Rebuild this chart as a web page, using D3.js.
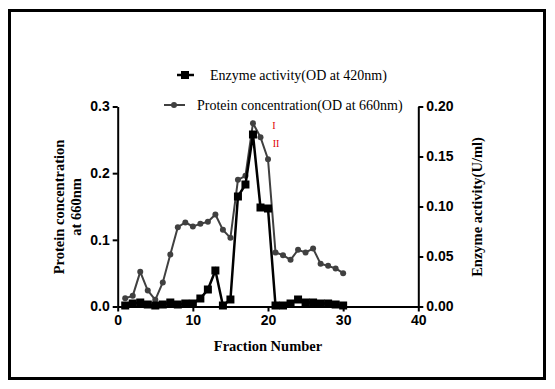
<!DOCTYPE html>
<html>
   <head>
      <script src="https://d3js.org/d3.v7.min.js"></script>
   </head>
   <style>
      body { margin: 0; background: #fff; }
   </style>
   <body>
      <script>
         let [width, height] = [555, 389];

         // fraction numbers and the two series
         let fractions = d3.range(1, 31);
         let protein = [0.0125, 0.016, 0.052, 0.024, 0.010, 0.036, 0.078, 0.119, 0.126, 0.120,
                        0.124, 0.127, 0.138, 0.115, 0.103, 0.190, 0.196, 0.275, 0.254, 0.221,
                        0.081, 0.077, 0.070, 0.085, 0.081, 0.087, 0.064, 0.061, 0.057, 0.050];
         let enzyme = [0.001, 0.003, 0.004, 0.002, 0.001, 0.002, 0.004, 0.002, 0.003, 0.003,
                       0.008, 0.017, 0.036, 0.001, 0.007, 0.110, 0.122, 0.172, 0.099, 0.098,
                       0.001, 0.001, 0.003, 0.007, 0.004, 0.004, 0.003, 0.003, 0.002, 0.001];
         let xTicks = [0, 10, 20, 30, 40];
         let leftTicks = [0.0, 0.1, 0.2, 0.3];
         let rightTicks = [0.00, 0.05, 0.10, 0.15, 0.20];
         let legendLabels = ['Enzyme activity(OD at 420nm)', 'Protein concentration(OD at 660nm)'];

         let svg = d3.select('body').append('svg').attr('width', width).attr('height', height);

         // frame
         svg.append('rect').attr('x', 9.5).attr('y', 10.5).attr('width', 535).attr('height', 368)
            .attr('fill', 'none').attr('stroke', 'black').attr('stroke-width', 3);

         let x = d3.scaleLinear().domain([0, 40]).range([117.7, 418.3]);
         let yL = d3.scaleLinear().domain([0, 0.3]).range([306.5, 106.5]);
         let yR = d3.scaleLinear().domain([0, 0.2]).range([306.5, 106.5]);

         let tickFont = (g) => g.selectAll('text')
            .style('font-family', 'Arial, "Liberation Sans"').style('font-weight', 'bold')
            .style('font-size', '14px').attr('fill', 'black');
         let axisLine = (g) => {
            g.select('.domain').attr('stroke-width', 2);
            g.selectAll('.tick line').attr('stroke-width', 2);
         };

         svg.append('g').attr('transform', `translate(0, ${yL(0)})`)
            .call(d3.axisBottom(x).tickValues(xTicks).tickSize(5).tickSizeOuter(0).tickPadding(4))
            .call(tickFont).call(axisLine);
         svg.append('g').attr('transform', `translate(${x(0)}, 0)`)
            .call(d3.axisLeft(yL).tickValues(leftTicks).tickFormat(d3.format('.1f')).tickSize(5).tickSizeOuter(0).tickPadding(3))
            .call(tickFont).call(axisLine);
         svg.append('g').attr('transform', `translate(${x(40)}, 0)`)
            .call(d3.axisRight(yR).tickValues(rightTicks).tickFormat(d3.format('.2f')).tickSize(5).tickSizeOuter(0).tickPadding(3))
            .call(tickFont).call(axisLine);

         // axis titles
         let titleStyle = (t) => t.style('font-family', '"Liberation Serif", "Times New Roman", serif')
            .style('font-weight', 'bold').style('font-size', '14.5px').attr('text-anchor', 'middle');
         svg.append('text').attr('x', 268).attr('y', 351).text('Fraction Number').call(titleStyle);
         svg.append('text').attr('transform', 'translate(64, 207) rotate(-90)').text('Protein concentration').call(titleStyle);
         svg.append('text').attr('transform', 'translate(81, 207) rotate(-90)').text('at 660nm').call(titleStyle);
         svg.append('text').attr('transform', 'translate(482, 207) rotate(-90)').text('Enzyme activity(U/ml)').call(titleStyle);

         // protein series (left axis)
         let proteinLine = d3.line().x((d, i) => x(fractions[i])).y((d) => yL(d));
         svg.append('path').datum(protein).attr('d', proteinLine)
            .attr('fill', 'none').attr('stroke', '#404040').attr('stroke-width', 2);
         svg.selectAll('.pdot').data(protein).enter().append('circle')
            .attr('cx', (d, i) => x(fractions[i])).attr('cy', (d) => yL(d)).attr('r', 3)
            .attr('fill', '#404040');

         // enzyme series (right axis)
         let enzymeLine = d3.line().x((d, i) => x(fractions[i])).y((d) => yR(d));
         svg.append('path').datum(enzyme).attr('d', enzymeLine)
            .attr('fill', 'none').attr('stroke', 'black').attr('stroke-width', 2.5);
         svg.selectAll('.esq').data(enzyme).enter().append('rect')
            .attr('x', (d, i) => x(fractions[i]) - 4).attr('y', (d) => yR(d) - 4)
            .attr('width', 8).attr('height', 8).attr('fill', 'black');

         // legend
         let legendFont = (t) => t.style('font-family', '"Liberation Serif", "Times New Roman", serif')
            .style('font-size', '14px').attr('fill', 'black');
         svg.append('line').attr('x1', 177).attr('x2', 194).attr('y1', 75).attr('y2', 75)
            .attr('stroke', 'black').attr('stroke-width', 2.5);
         svg.append('rect').attr('x', 181).attr('y', 71).attr('width', 8).attr('height', 8).attr('fill', 'black');
         svg.append('text').attr('x', 210).attr('y', 80).text(legendLabels[0]).call(legendFont);
         svg.append('line').attr('x1', 164).attr('x2', 185).attr('y1', 105).attr('y2', 105)
            .attr('stroke', '#404040').attr('stroke-width', 2);
         svg.append('circle').attr('cx', 174).attr('cy', 105).attr('r', 3).attr('fill', '#404040');
         svg.append('text').attr('x', 197).attr('y', 110).text(legendLabels[1]).call(legendFont);

         // peak labels
         let redFont = (t) => t.style('font-family', '"Liberation Serif", serif').style('font-size', '10px')
            .attr('fill', '#e00000').attr('text-anchor', 'middle');
         svg.append('text').attr('x', 274).attr('y', 129).text('I').call(redFont);
         svg.append('text').attr('x', 276).attr('y', 147).text('II').call(redFont);
      </script>
   </body>
</html>
